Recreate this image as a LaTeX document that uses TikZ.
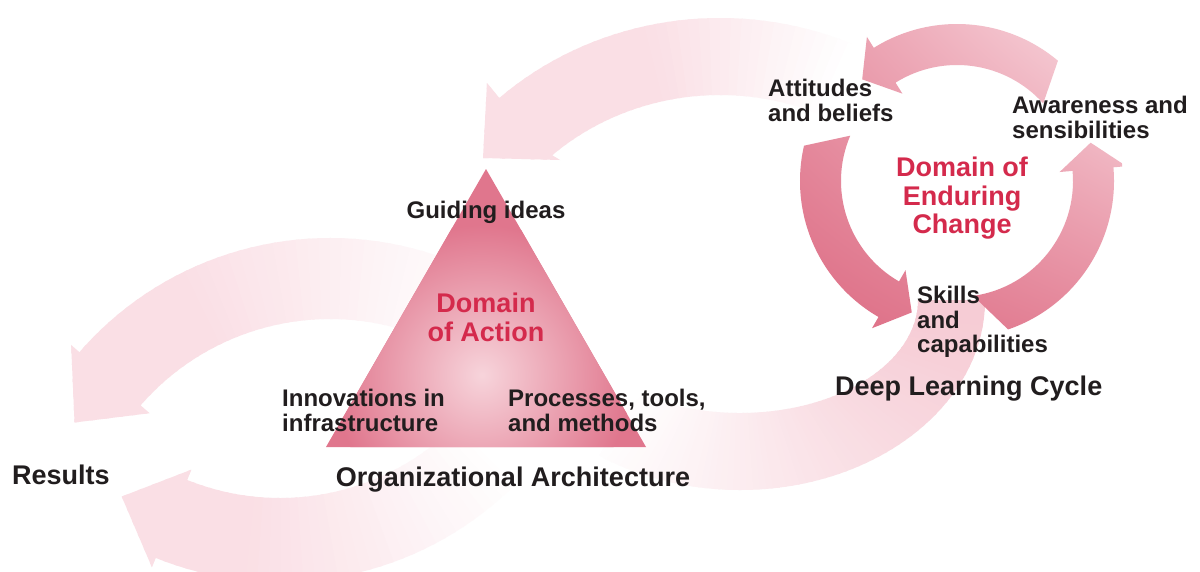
\documentclass[tikz,border=0pt]{standalone}
\usepackage{fontspec}
\setmainfont{Liberation Sans}
\usetikzlibrary{shadings}
\definecolor{ink}{RGB}{33,29,30}
\definecolor{crimson}{RGB}{212,42,76}
\definecolor{bandpink}{RGB}{250,223,229}
\definecolor{bandpinkB}{RGB}{246,204,213}
\definecolor{trifill}{RGB}{224,118,141}
\definecolor{triglow}{RGB}{247,212,219}
\definecolor{ringdark}{RGB}{220,106,130}
\definecolor{ringmidA}{RGB}{233,152,169}
\definecolor{ringmidB}{RGB}{228,132,152}
\definecolor{ringlight}{RGB}{250,222,228}
% fill the current clip with thin wedges around the origin, fading by angle:
% #1 list of angles, #2 angle of full colour, #3 angle of no colour, #4 colour
\newcommand{\wedgefade}[4]{%
  \foreach \wa in {#1}{%
    \pgfmathsetmacro\wp{max(0,min(100,100*(\wa-(#3))/((#2)-(#3))))}%
    \fill[#4!\wp!white] (0,0) -- (\wa:430)
      arc[start angle=\wa, end angle=\wa+2.6, radius=430] -- cycle;
  }}
\begin{document}
\begin{tikzpicture}[x=1pt,y=-1pt,
  lbl/.style={inner sep=0pt, text=ink, align=left,
    font=\bfseries\fontsize{24}{24.5}\selectfont},
  domainlbl/.style={inner sep=0pt, text=crimson, align=center,
    font=\bfseries\fontsize{27}{28.5}\selectfont},
  titlelbl/.style={inner sep=0pt, text=ink,
    font=\bfseries\fontsize{27}{28}\selectfont}]
\useasboundingbox (0,0) rectangle (1200,571);
\fill[white] (0,0) rectangle (1200,571);
\clip (0,0) rectangle (1200,571);

% ---- large pale flow arrows ----
% band from the triangle base up into the learning cycle
\begin{scope}[shift={(740,300)}]
  \clip (245,0) arc[start angle=0, end angle=125, x radius=245, y radius=190]
    -- ({178*cos(125)},{113*sin(125)})
    arc[start angle=125, end angle=0, x radius=178, y radius=113] -- cycle;
  \wedgefade{-8,-6,...,144}{5}{136}{bandpinkB}
\end{scope}
% arrow from the learning cycle over to the triangle apex
\begin{scope}[shift={(720,330)}]
  \clip ({330*cos(-66)},{312*sin(-66)})
    arc[start angle=-66, end angle=-132, x radius=330, y radius=312]
    -- (-233,-247) -- (-237,-172) -- (-160,-170)
    -- ({251*cos(-132)},{235*sin(-132)})
    arc[start angle=-132, end angle=-66, x radius=251, y radius=235] -- cycle;
  \wedgefade{-156,-154,...,-56}{-105}{-66}{bandpink}
\end{scope}
% arrow from the triangle down towards the results
\begin{scope}[shift={(330,570)}]
  \clip (-64:332) arc[start angle=-64, end angle=-139, radius=332]
    -- (-139:343) -- (-150:295) -- (-139:239) -- (-139:251)
    arc[start angle=-139, end angle=-64, radius=251] -- cycle;
  \wedgefade{-158,-156,...,-58}{-118}{-62}{bandpink}
\end{scope}
% arrow from below the architecture back to the results
\begin{scope}[shift={(280,250)}]
  \clip (45:332) arc[start angle=45, end angle=112, radius=332]
    -- (112:342) -- (122.7:293) -- (112:237) -- (112:248)
    arc[start angle=112, end angle=45, radius=248] -- cycle;
  \wedgefade{38,40,...,130}{95}{43}{bandpink}
\end{scope}

% ---- triangle: domain of action ----
\fill[trifill] (486,169) -- (326,447) -- (646,447) -- cycle;
\begin{scope}
  \clip (486,169) -- (326,447) -- (646,447) -- cycle;
  \shade[inner color=triglow, outer color=trifill] (482,375) circle (150);
\end{scope}

% ---- deep learning cycle ring ----
\begin{scope}[shift={(957,181)}]
  \clip
    (-50:157) arc[start angle=-50, end angle=-122, radius=157]
    -- (-122:170) -- (-133:139) -- (-122:103) -- (-122:116)
    arc[start angle=-122, end angle=-42, radius=116] -- cycle
    (193:157) arc[start angle=193, end angle=120, radius=157]
    -- (120:170) -- (109:139) -- (120:103) -- (120:116)
    arc[start angle=120, end angle=203, radius=116] -- cycle
    (71:157) arc[start angle=71, end angle=-5, radius=157]
    -- (-5:170) -- (-16:139) -- (-5:103) -- (-5:116)
    arc[start angle=-5, end angle=82, radius=116] -- cycle;
  \shade[upper left=ringmidA, upper right=ringlight,
         lower left=ringdark, lower right=ringmidB]
    (-165,-170) rectangle (165,160);
\end{scope}

% ---- labels ----
\node[lbl, anchor=north] (guiding) at (486,201) {Guiding ideas};
\node[domainlbl, anchor=north] (action) at (486,293) {Domain\\of Action};
\node[lbl, anchor=north west] (infra) at (282,389) {Innovations in\\infrastructure};
\node[lbl, anchor=north west] (proc) at (508,389) {Processes, tools,\\and methods};
\node[titlelbl, anchor=north] (orgarch) at (513,467) {Organizational Architecture};
\node[titlelbl, anchor=north west] (results) at (12,465) {Results};
\node[titlelbl, anchor=north west] (dlc) at (835,376) {Deep Learning Cycle};
\node[lbl, anchor=north west] (skills) at (917,286) {Skills\\and\\capabilities};
\node[lbl, anchor=north west] (attitudes) at (768,79) {Attitudes\\and beliefs};
\node[lbl, anchor=north west] (awareness) at (1012,96) {Awareness and\\sensibilities};
\node[domainlbl, anchor=north] (enduring) at (962,157) {Domain of\\Enduring\\Change};
\end{tikzpicture}
\end{document}
